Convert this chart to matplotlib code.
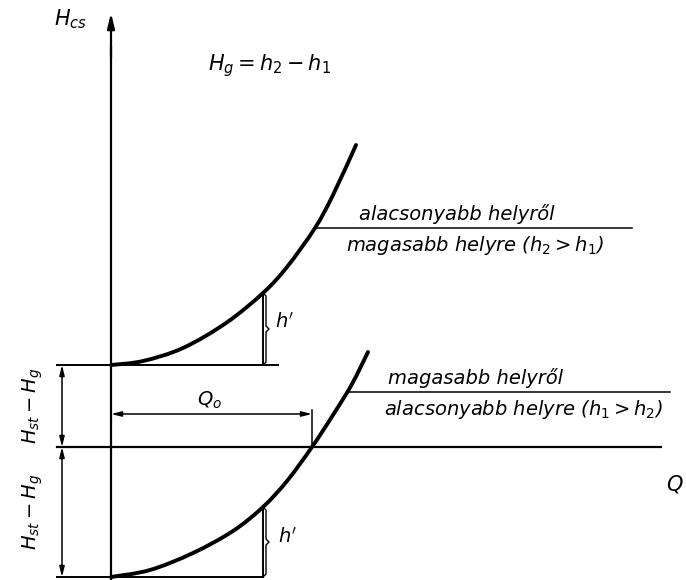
import matplotlib

matplotlib.use("Agg")
import matplotlib.pyplot as plt
import numpy as np
from matplotlib.patches import PathPatch
from matplotlib.path import Path

# drawing units: 1 unit = 100 px, origin where the Q axis meets the H axis
# upper curve (pumping from lower to higher level)
Q_UP = [0.0, 0.32, 0.72, 1.15, 1.52, 1.76, 2.04, 2.22, 2.45]
H_UP = [0.82, 0.86, 0.99, 1.24, 1.54, 1.80, 2.19, 2.52, 3.02]
# lower curve (from higher to lower level)
Q_LOW = [0.0, 0.39, 0.82, 1.22, 1.52, 1.76, 2.01, 2.22, 2.41, 2.57]
H_LOW = [-1.30, -1.23, -1.06, -0.84, -0.60, -0.34, 0.0, 0.32, 0.63, 0.95]

H_BASE_UP = 0.82    # Hst - Hg above the Q axis
H_BASE_LOW = -1.30  # Hst - Hg below the Q axis
Q0 = 2.01
Q_HP = 1.52         # where h' is marked
H_Q0_DIM = 0.33

LABEL_UP = ("alacsonyabb helyről", "magasabb helyre ($h_2 > h_1$)")
LABEL_LOW = ("magasabb helyről", "alacsonyabb helyre ($h_1 > h_2$)")

K = "black"
ARROW = dict(arrowstyle="-|>,head_length=0.9,head_width=0.22", color=K, lw=1.6,
             shrinkA=0, shrinkB=0)
DIM = dict(arrowstyle="<|-|>,head_length=0.6,head_width=0.15", color=K, lw=1.1,
           shrinkA=0, shrinkB=0)


def smooth(q, h):
    """Catmull-Rom through the read points, as a cubic Bezier path."""
    p = np.column_stack([q, h])
    p = np.vstack([p[0], p, p[-1]])
    verts, codes = [p[1]], [Path.MOVETO]
    for i in range(1, len(p) - 2):
        c1 = p[i] + (p[i + 1] - p[i - 1]) / 6
        c2 = p[i + 1] - (p[i + 2] - p[i]) / 6
        verts += [c1, c2, p[i + 1]]
        codes += [Path.CURVE4] * 3
    return Path(verts, codes)


def brace(ax, q, lo, hi):
    mid = (lo + hi) / 2
    d = 0.03
    ax.plot([q, q], [lo, hi], color=K, lw=1.4)
    ax.plot([q, q + d, q + d, q + 2 * d, q + d, q + d, q],
            [hi, hi - d, mid + d, mid, mid - d, lo + d, lo], color=K, lw=1.0)


fig = plt.figure(figsize=(6.86, 5.8), dpi=100)
ax = fig.add_axes([0, 0, 1, 1])
ax.set_xlim(-1.11, 5.75)
ax.set_ylim(-1.33, 4.47)
ax.axis("off")

txt = dict(color=K, style="italic", fontsize=14)

# axes
ax.plot([0, 0], [-1.33, 4.0], color=K, lw=1.6)
ax.annotate("", xy=(0, 4.34), xytext=(0, 3.9), arrowprops=ARROW)
ax.plot([-0.54, 5.5], [0, 0], color=K, lw=1.6)
ax.annotate("", xy=(5.76, 0), xytext=(5.4, 0), arrowprops=ARROW)

# base lines
ax.plot([-0.54, 1.67], [H_BASE_UP, H_BASE_UP], color=K, lw=1.4)
ax.plot([-0.54, Q_HP], [H_BASE_LOW, H_BASE_LOW], color=K, lw=1.4)

# curves
for q, h in ((Q_UP, H_UP), (Q_LOW, H_LOW)):
    ax.add_patch(PathPatch(smooth(q, h), fill=False, ec=K, lw=2.8, capstyle="round"))

# h' marks
brace(ax, Q_HP, H_BASE_UP, H_UP[Q_UP.index(Q_HP)])
brace(ax, Q_HP, H_BASE_LOW, H_LOW[Q_LOW.index(Q_HP)])
ax.text(1.74, 1.25, "$h'$", ha="center", va="center", **txt)
ax.text(1.77, -0.90, "$h'$", ha="center", va="center", **txt)

# Q0 dimension
ax.annotate("", xy=(0, H_Q0_DIM), xytext=(Q0, H_Q0_DIM), arrowprops=DIM)
ax.plot([Q0, Q0], [0, H_Q0_DIM + 0.04], color=K, lw=1.1)
ax.text(0.99, 0.47, "$Q_o$", ha="center", va="center", **txt)

# left dimension (Hst - Hg)
ax.annotate("", xy=(-0.49, H_BASE_UP), xytext=(-0.49, 0), arrowprops=DIM)
ax.annotate("", xy=(-0.49, H_BASE_LOW), xytext=(-0.49, 0), arrowprops=DIM)
ax.text(-0.78, H_BASE_UP / 2, "$H_{st} - H_g$", rotation=90,
        ha="center", va="center", **txt)
ax.text(-0.78, H_BASE_LOW / 2, "$H_{st} - H_g$", rotation=90,
        ha="center", va="center", **txt)

# curve labels
ax.plot([2.04, 5.21], [2.19, 2.19], color=K, lw=1.1)
ax.text(3.46, 2.23, LABEL_UP[0], ha="center", va="bottom", **txt)
ax.text(3.64, 2.13, LABEL_UP[1], ha="center", va="top", **txt)
ax.plot([2.38, 5.59], [0.55, 0.55], color=K, lw=1.1)
ax.text(3.65, 0.59, LABEL_LOW[0], ha="center", va="bottom", **txt)
ax.text(4.12, 0.49, LABEL_LOW[1], ha="center", va="top", **txt)

# axis names and header
ax.text(-0.40, 4.28, "$H_{cs}$", ha="center", va="center", color=K, fontsize=15)
ax.text(5.64, -0.37, "$Q$", ha="center", va="center", color=K, fontsize=15)
ax.text(1.59, 3.81, "$H_g = h_2 - h_1$", ha="center", va="center", color=K, fontsize=15)

fig.savefig("out.png", dpi=100, facecolor="white")
